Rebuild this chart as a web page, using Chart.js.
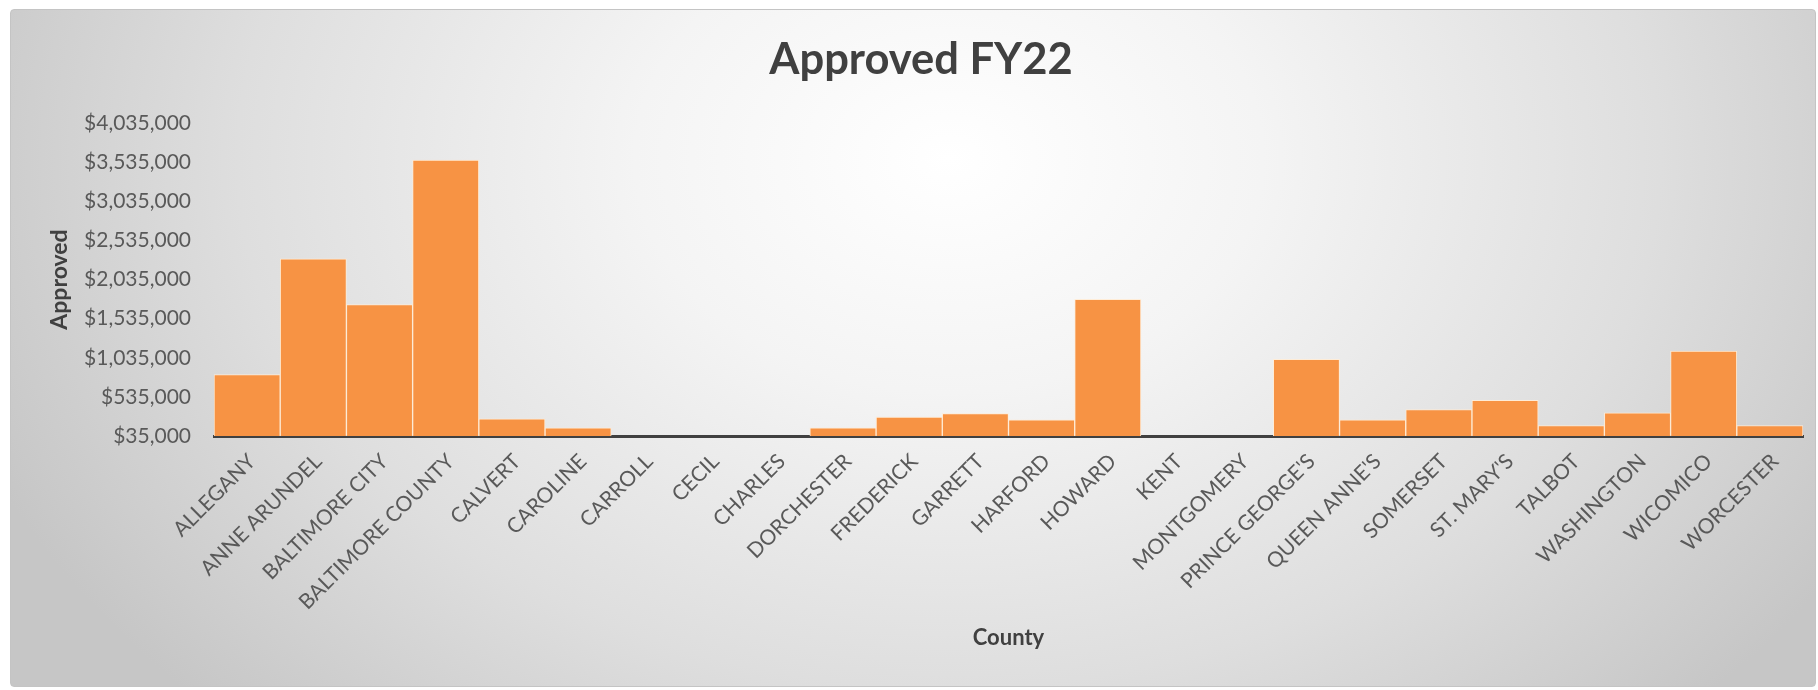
<!DOCTYPE html>
<html>
<head>
<meta charset="utf-8">
<title>Approved FY22</title>
<script src="https://cdn.jsdelivr.net/npm/chart.js@4.4.1/dist/chart.umd.min.js"></script>
<style>
    html, body { margin: 0; padding: 0; background: #ffffff; }
    .wrap { position: relative; width: 1818px; height: 690px; }
    .frame {
        position: absolute; left: 10px; top: 9px; width: 1804px; height: 676px;
        border: 1px solid #c4c4c4; border-radius: 4px;
        background: radial-gradient(ellipse 58% 115% at 52% 22%, #ffffff 0%, #f4f4f4 30%, #dedede 68%, #c6c6c6 100%);
    }
    canvas { position: absolute; left: 0; top: 0; }
</style>
</head>
<body>
<div class="wrap">
    <div class="frame"></div>
    <canvas id="approvedChart" width="1818" height="690"></canvas>
</div>
<script>
// Dữ liệu
const counties = ['ALLEGANY', 'ANNE ARUNDEL', 'BALTIMORE CITY', 'BALTIMORE COUNTY', 'CALVERT', 'CAROLINE',
    'CARROLL', 'CECIL', 'CHARLES', 'DORCHESTER', 'FREDERICK', 'GARRETT', 'HARFORD', 'HOWARD', 'KENT',
    'MONTGOMERY', "PRINCE GEORGE'S", "QUEEN ANNE'S", 'SOMERSET', "ST. MARY'S", 'TALBOT', 'WASHINGTON',
    'WICOMICO', 'WORCESTER'];
const approved = [820000, 2300000, 1715000, 3560000, 255000, 140000,
    0, 0, 0, 140000, 276000, 323000, 242000, 1783000, 0,
    0, 1015000, 242000, 374000, 490000, 169000, 332000,
    1121000, 169000];
const yTicks = [35000, 535000, 1035000, 1535000, 2035000, 2535000, 3035000, 3535000, 4035000];

const FONT = 'Lato, "Open Sans", sans-serif';

document.addEventListener('DOMContentLoaded', () => {
    drawChart();
});

function formatMoney(v) {
    return '$' + Number(v).toLocaleString('en-US');
}

function drawChart() {
    // giá trị dưới trục (0) thì không vẽ
    const barValues = approved.map(v => (v > yTicks[0] ? v : null));

    return new Chart(document.getElementById('approvedChart'), {
        type: 'bar',
        data: {
            labels: counties,
            datasets: [{
                label: 'Approved',
                data: barValues,
                backgroundColor: '#f79344',
                borderColor: 'rgba(255, 236, 214, 0.95)',
                borderWidth: 1,
                categoryPercentage: 1,
                barPercentage: 1,
            }],
        },
        options: {
            responsive: false,
            animation: false,
            layout: { padding: { left: 39, right: 15, top: 0, bottom: 10 } },
            plugins: {
                legend: { display: false },
                tooltip: { enabled: false },
                title: {
                    display: true,
                    text: 'Approved FY22',
                    color: '#404040',
                    font: { family: FONT, size: 43.5, weight: 'bold' },
                    padding: { top: 34, bottom: 36.8 },
                },
            },
            scales: {
                x: {
                    grid: { display: false, drawTicks: false },
                    border: { display: true, color: '#404040', width: 3 },
                    ticks: {
                        autoSkip: false,
                        minRotation: 45,
                        maxRotation: 45,
                        padding: 13,
                        labelOffset: 5,
                        color: '#595959',
                        font: { family: FONT, size: 21 },
                    },
                    title: {
                        display: true,
                        text: 'County',
                        color: '#404040',
                        font: { family: FONT, size: 22, weight: 'bold' },
                        padding: { top: 0, bottom: 29 },
                    },
                    afterFit: scale => { scale.height = 244; },
                },
                y: {
                    min: yTicks[0],
                    max: yTicks[yTicks.length - 1],
                    grid: { display: false, drawTicks: false },
                    border: { display: false },
                    afterBuildTicks: scale => { scale.ticks = yTicks.map(v => ({ value: v })); },
                    ticks: {
                        padding: 23,
                        color: '#595959',
                        font: { family: FONT, size: 21 },
                        callback: v => formatMoney(v),
                    },
                    title: {
                        display: true,
                        text: 'Approved',
                        color: '#404040',
                        font: { family: FONT, size: 23, weight: 'bold' },
                        padding: { top: 7, bottom: 0 },
                    },
                    afterFit: scale => { scale.width = 175; },
                },
            },
        },
    });
}
</script>
</body>
</html>
